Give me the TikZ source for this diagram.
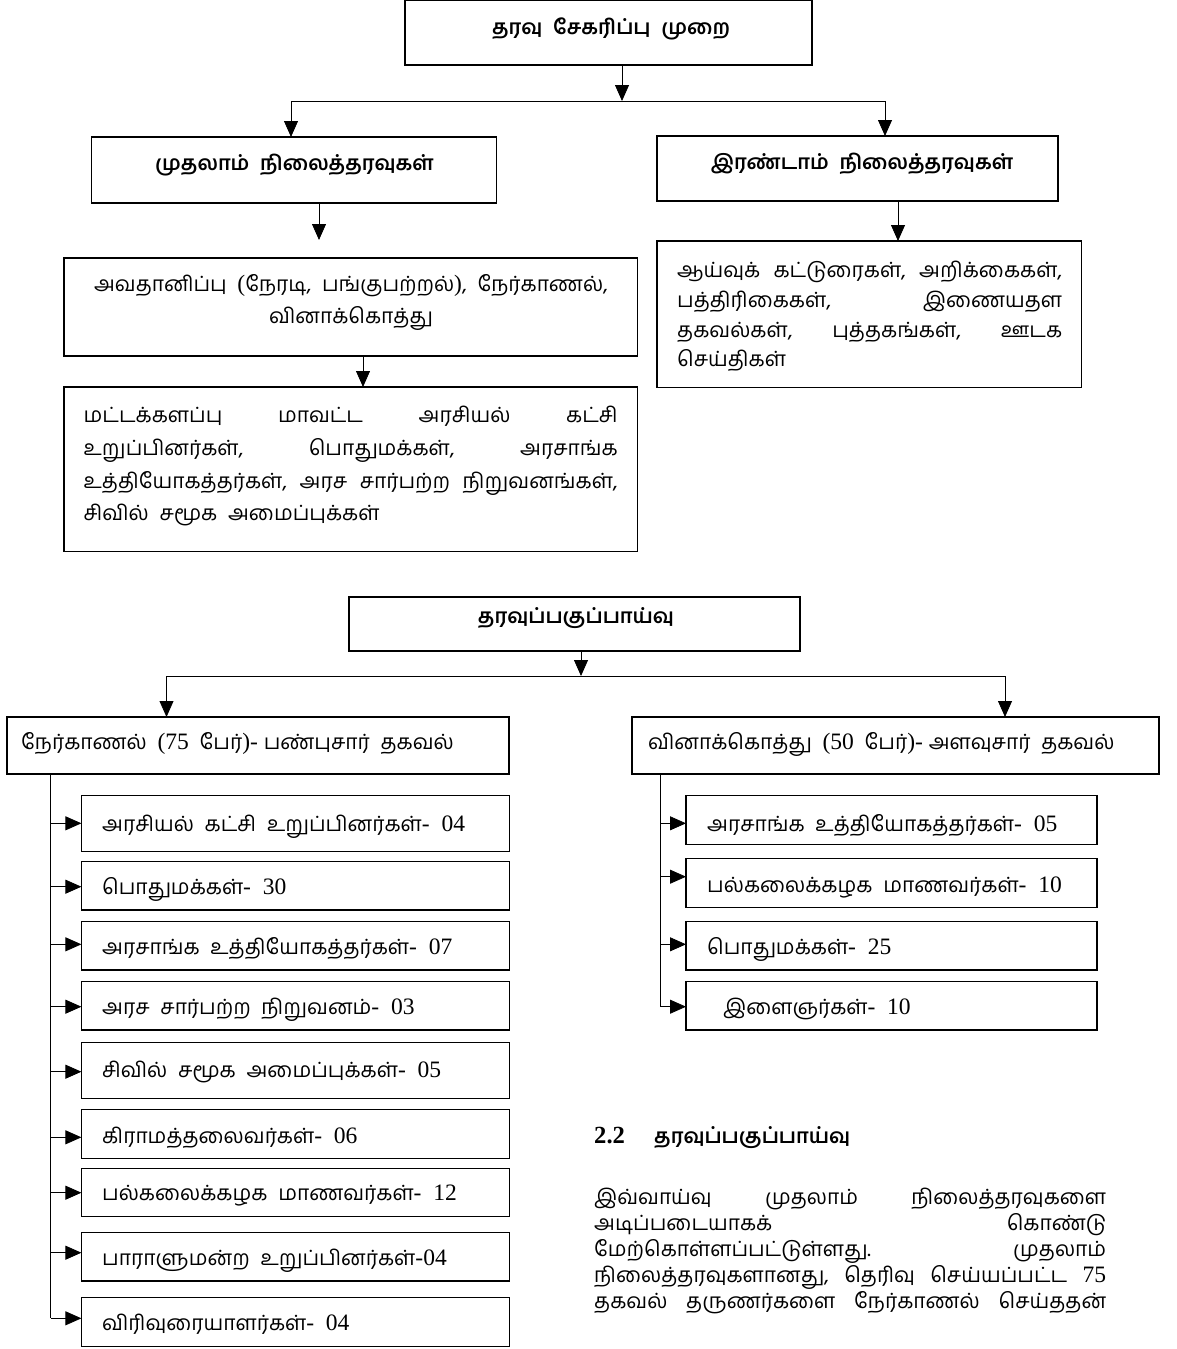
\documentclass[tikz,border=0pt]{standalone}
\usepackage{fontspec}
\setmainfont{Liberation Serif}
\newfontfamily\ta[Script=Tamil,WordSpace=2.1]{Hind Madurai}
\newfontfamily\lat[Scale=1.12]{Liberation Serif}
\usetikzlibrary{arrows.meta,calc}
\newcommand\nm[1]{{\lat #1}}
\newcommand\jl[2]{\hbox to #1{#2}}
\tikzset{
  box/.style={draw=black, line width=1.1pt, inner sep=0pt, outer sep=0pt, anchor=north west},
  ln/.style={draw=black, line width=0.8pt},
  arr/.style={ln, -{Triangle[length=16pt,width=14pt]}},
  txt/.style={font=\ta\fontsize{21}{26}\selectfont, inner sep=0pt, anchor=base west},
  ctxt/.style={font=\ta\fontsize{21}{32}\selectfont, inner sep=0pt, align=center},
  hd/.style={font=\ta\bfseries\fontsize{20.5}{24}\selectfont, inner sep=0pt},
}
\begin{document}
\begin{tikzpicture}[x=1pt,y=-1pt]
\useasboundingbox (0,0) rectangle (1176,1349);
% ---------- upper chart ----------
\node[box, minimum width=407pt, minimum height=64.5pt] (top) at (405,0.5) {};
\node[hd] (topt) at (611,29) {தரவு சேகரிப்பு முறை};
\node[box, minimum width=405pt, minimum height=66pt] (L1) at (91.5,137) {};
\node[hd] (L1t) at (294.5,165) {முதலாம் நிலைத்தரவுகள்};
\node[box, minimum width=401pt, minimum height=65pt] (R1) at (657,136) {};
\node[hd] (R1t) at (862,164) {இரண்டாம் நிலைத்தரவுகள்};
\node[box, minimum width=573.5pt, minimum height=98pt] (L2) at (64,258) {};
\node[ctxt] (L2t) at (351,302) {அவதானிப்பு \nm{(}நேரடி, பங்குபற்றல்\nm{)}, நேர்காணல்,\\வினாக்கொத்து};
\node[box, minimum width=573.5pt, minimum height=164.7pt] (L3) at (64,387) {};
\node[txt] (L3a) at (83.5,422) {\jl{534pt}{மட்டக்களப்பு\hfill மாவட்ட\hfill அரசியல்\hfill கட்சி}};
\node[txt] (L3b) at (83.5,455) {\jl{534pt}{உறுப்பினர்கள்,\hfill பொதுமக்கள்,\hfill அரசாங்க}};
\node[txt] (L3c) at (83.5,488) {\jl{534pt}{உத்தியோகத்தர்கள்,\hfill அரச\hfill சார்பற்ற\hfill நிறுவனங்கள்,}};
\node[txt] (L3d) at (83.5,520) {சிவில் சமூக அமைப்புக்கள்};
\node[box, minimum width=424.7pt, minimum height=146.7pt] (R2) at (657,241) {};
\node[txt] (R2a) at (677,277) {\jl{385pt}{ஆய்வுக்\hfill கட்டுரைகள்,\hfill அறிக்கைகள்,}};
\node[txt] (R2b) at (677,307) {\jl{385pt}{பத்திரிகைகள்,\hfill இணையதள}};
\node[txt] (R2c) at (677,337) {\jl{385pt}{தகவல்கள்,\hfill புத்தகங்கள்,\hfill ஊடக}};
\node[txt] (R2d) at (677,366) {செய்திகள்};
\coordinate (j1) at (622,101);
\coordinate (h1) at (291,101);
\coordinate (h2) at (885,101);
\coordinate (a2) at (319,240);
\coordinate (a3) at (898,0);
\coordinate (a4) at (363,0);
\draw[arr] (j1 |- top.south) -- (j1);
\draw[ln] (h1) -- (h2);
\draw[arr] (h1) -- (h1 |- L1.north);
\draw[arr] (h2) -- (h2 |- R1.north);
\draw[arr] (a2 |- L1.south) -- (a2);
\draw[arr] (a3 |- R1.south) -- (a3 |- R2.north);
\draw[arr] (a4 |- L2.south) -- (a4 |- L3.north);
% ---------- lower chart ----------
\node[box, minimum width=451pt, minimum height=54pt] (T2) at (349,597) {};
\node[hd] (T2t) at (576,618) {தரவுப்பகுப்பாய்வு};
\node[box, minimum width=502pt, minimum height=57pt] (A) at (7,717) {};
\node[txt] (At) at (21,749) {நேர்காணல் \nm{(75} பேர்\nm{)- }பண்புசார் தகவல்};
\node[box, minimum width=527pt, minimum height=57pt] (B) at (632,717) {};
\node[txt] (Bt) at (648,749) {வினாக்கொத்து \nm{(50} பேர்\nm{)- }அளவுசார் தகவல்};
\coordinate (j2) at (581,676);
\coordinate (h3) at (166.5,676);
\coordinate (h4) at (1005,676);
\draw[arr] (j2 |- T2.south) -- (j2);
\draw[ln] (h3) -- (h4);
\draw[arr] (h3) -- (h3 |- A.north);
\draw[arr] (h4) -- (h4 |- B.north);
% left children
\node[box, minimum width=428pt, minimum height=55.6pt] (c1) at (81.4,795.7) {};
\node[box, minimum width=428pt, minimum height=48.7pt] (c2) at (81.4,861.3) {};
\node[box, minimum width=428pt, minimum height=48.3pt] (c3) at (81.4,921.7) {};
\node[box, minimum width=428pt, minimum height=48.7pt] (c4) at (81.4,981.3) {};
\node[box, minimum width=428pt, minimum height=55.6pt] (c5) at (81.4,1042.7) {};
\node[box, minimum width=428pt, minimum height=48.6pt] (c6) at (81.4,1109.7) {};
\node[box, minimum width=428pt, minimum height=48.4pt] (c7) at (81.4,1168.3) {};
\node[box, minimum width=428pt, minimum height=48.3pt] (c8) at (81.4,1232.7) {};
\node[box, minimum width=428pt, minimum height=49.4pt] (c9) at (81.4,1297.3) {};
\node[txt] (c1t) at (102,831) {அரசியல் கட்சி உறுப்பினர்கள்\nm{-\ \ 04}};
\node[txt] (c2t) at (102,894) {பொதுமக்கள்\nm{-\ \ 30}};
\node[txt] (c3t) at (102,954) {அரசாங்க உத்தியோகத்தர்கள்\nm{-\ \ 07}};
\node[txt] (c4t) at (102,1014) {அரச சார்பற்ற நிறுவனம்\nm{-\ \ 03}};
\node[txt] (c5t) at (102,1077) {சிவில் சமூக அமைப்புக்கள்\nm{-\ \ 05}};
\node[txt] (c6t) at (102,1143) {கிராமத்தலைவர்கள்\nm{-\ \ 06}};
\node[txt] (c7t) at (102,1200) {பல்கலைக்கழக மாணவர்கள்\nm{-\ \ 12}};
\node[txt] (c8t) at (102,1265) {பாராளுமன்ற உறுப்பினர்கள்\nm{-04}};
\node[txt] (c9t) at (102,1330) {விரிவுரையாளர்கள்\nm{-\ \ 04}};
\coordinate (ac1) at (50.7,823.3);
\coordinate (ac2) at (50.7,886.7);
\coordinate (ac3) at (50.7,944.3);
\coordinate (ac4) at (50.7,1006.7);
\coordinate (ac5) at (50.7,1071.7);
\coordinate (ac6) at (50.7,1137.3);
\coordinate (ac7) at (50.7,1192.7);
\coordinate (ac8) at (50.7,1252.7);
\coordinate (ac9) at (50.7,1318.3);
\draw[ln] (ac1 |- A.south) -- (ac9);
\foreach \i in {1,...,9} {\draw[arr] (ac\i) -- (ac\i -| c\i.west);}
% right children
\node[box, minimum width=411pt, minimum height=48.6pt] (d1) at (686,795.7) {};
\node[box, minimum width=411pt, minimum height=48.6pt] (d2) at (686,858.7) {};
\node[box, minimum width=411pt, minimum height=48.7pt] (d3) at (686,921.3) {};
\node[box, minimum width=411pt, minimum height=48.7pt] (d4) at (686,981.3) {};
\node[txt] (d1t) at (707,831) {அரசாங்க உத்தியோகத்தர்கள்\nm{-\ \ 05}};
\node[txt] (d2t) at (707,892) {பல்கலைக்கழக மாணவர்கள்\nm{-\ \ 10}};
\node[txt] (d3t) at (707,954) {பொதுமக்கள்\nm{-\ \ 25}};
\node[txt] (d4t) at (723,1014) {இளைஞர்கள்\nm{-\ \ 10}};
\coordinate (ad1) at (660,823.3);
\coordinate (ad2) at (660,876.7);
\coordinate (ad3) at (660,944.3);
\coordinate (ad4) at (660,1006.7);
\draw[ln] (ad1 |- B.south) -- (ad4);
\foreach \i in {1,...,4} {\draw[arr] (ad\i) -- (ad\i -| d\i.west);}
% ---------- text ----------
\node[inner sep=0pt, anchor=base west, font=\lat\bfseries\fontsize{22}{26}\selectfont] (sec) at (594,1143) {2.2};
\node[inner sep=0pt, anchor=base west, font=\ta\bfseries\fontsize{20.5}{24}\selectfont] (sect) at (654,1143) {தரவுப்பகுப்பாய்வு};
\node[txt] (p1) at (594,1204) {\jl{512pt}{இவ்வாய்வு\hfill முதலாம்\hfill நிலைத்தரவுகளை}};
\node[txt] (p2) at (594,1230) {\jl{512pt}{அடிப்படையாகக்\hfill கொண்டு}};
\node[txt] (p3) at (594,1256) {\jl{512pt}{மேற்கொள்ளப்பட்டுள்ளது.\hfill முதலாம்}};
\node[txt] (p4) at (594,1282) {\jl{512pt}{நிலைத்தரவுகளானது,\hfill தெரிவு\hfill செய்யப்பட்ட\hfill \nm{75}}};
\node[txt] (p5) at (594,1308) {\jl{512pt}{தகவல்\hfill தருணர்களை\hfill நேர்காணல்\hfill செய்ததன்}};
\end{tikzpicture}
\end{document}
